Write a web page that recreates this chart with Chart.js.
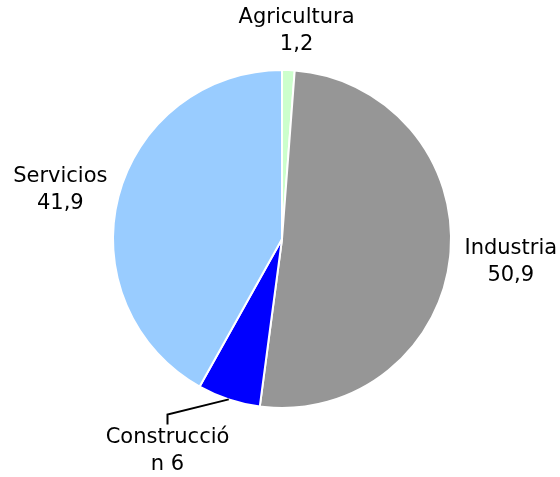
<!DOCTYPE html>
<html>
<head>
<meta charset="utf-8">
<script src="https://cdn.jsdelivr.net/npm/chart.js@4/dist/chart.umd.min.js"></script>
<style>
  html, body { margin: 0; padding: 0; background: #fff; }
  #wrap { width: 560px; height: 477px; }
</style>
</head>
<body>
<div id="wrap"><canvas id="pie"></canvas></div>
<script>
var sectores = ['Agricultura', 'Industria', 'Construcción', 'Servicios'];
var valores = [1.2, 50.9, 6, 41.9];
var colores = ['#CCFFCC', '#969696', '#0000FF', '#99CCFF'];

// label nudges (pixels, from the point just outside the slice) + leader flag
var labelNudge = [
  {dx: 6, dy: 19},
  {dx: 3, dy: 0},
  {dx: -43, dy: -3, leader: true},
  {dx: -2, dy: 8}
];

function fmt(v) {
  return String(v).replace('.', ',');
}

// wraps like the spreadsheet does: breaks inside a word if it is too long
function wrapText(ctx, text, maxW) {
  var lines = [];
  var cur = '';
  for (var i = 0; i < text.length; i++) {
    var ch = text[i];
    var test = cur + ch;
    if (ctx.measureText(test).width > maxW && cur.length) {
      var sp = cur.lastIndexOf(' ');
      if (ch === ' ') { lines.push(cur); cur = ''; continue; }
      if (sp > 0) { lines.push(cur.slice(0, sp)); cur = cur.slice(sp + 1) + ch; }
      else { lines.push(cur); cur = ch; }
    } else {
      cur = test;
    }
  }
  if (cur.length) lines.push(cur);
  return lines;
}

var pieLabels = {
  id: 'pieLabels',
  afterDatasetsDraw: function(chart) {
    var ctx = chart.ctx;
    var meta = chart.getDatasetMeta(0);
    ctx.save();
    ctx.font = '21px "DejaVu Sans", Verdana, sans-serif';
    ctx.fillStyle = '#000';
    ctx.textAlign = 'center';
    ctx.textBaseline = 'middle';
    var lineH = 27;
    meta.data.forEach(function(arc, i) {
      var p = arc.getProps(['x', 'y', 'startAngle', 'endAngle', 'outerRadius']);
      var mid = (p.startAngle + p.endAngle) / 2;
      var dist = p.outerRadius + 58;
      var n = labelNudge[i];
      var lx = p.x + Math.cos(mid) * dist + n.dx;
      var ly = p.y + Math.sin(mid) * dist + n.dy;
      var lines = wrapText(ctx, sectores[i] + ' ' + fmt(valores[i]), 128);
      var top = ly - (lines.length * lineH) / 2;
      lines.forEach(function(t, k) {
        ctx.fillText(t, lx, top + lineH * k + lineH / 2);
      });
      if (n.leader) {
        ctx.beginPath();
        ctx.strokeStyle = '#000';
        ctx.lineWidth = 2;
        ctx.moveTo(p.x + Math.cos(mid) * p.outerRadius, p.y + Math.sin(mid) * p.outerRadius);
        ctx.lineTo(lx, top - 10);
        ctx.lineTo(lx, top);
        ctx.stroke();
      }
    });
    ctx.restore();
  }
};

new Chart(document.getElementById('pie'), {
  type: 'pie',
  data: {
    labels: sectores,
    datasets: [{
      data: valores,
      backgroundColor: colores,
      borderColor: '#fff',
      borderWidth: 2
    }]
  },
  options: {
    responsive: true,
    maintainAspectRatio: false,
    animation: false,
    layout: { padding: {left: 112, right: 108, top: 69, bottom: 68} },
    plugins: {
      legend: { display: false },
      tooltip: { enabled: false },
      title: { display: false }
    }
  },
  plugins: [pieLabels]
});
</script>
</body>
</html>
